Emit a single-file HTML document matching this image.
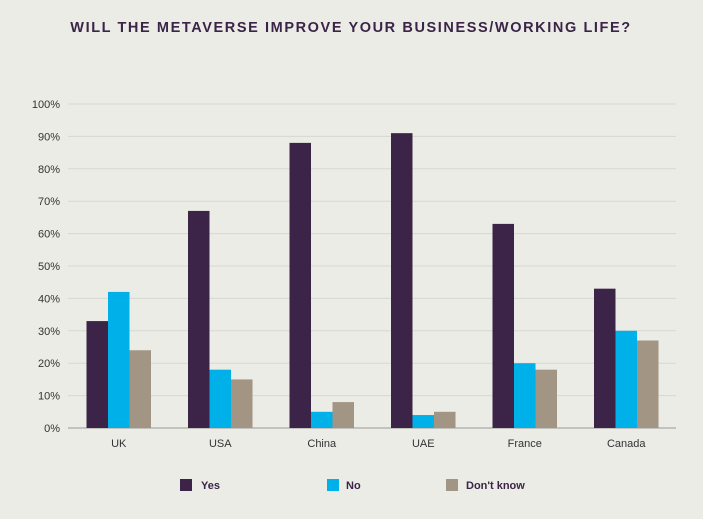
<!DOCTYPE html>
<html><head><meta charset="utf-8"><style>
html,body{margin:0;padding:0;background:#eaece5;}
body{width:703px;height:514px;overflow:hidden;font-family:"Liberation Sans",sans-serif;}
</style></head><body>
<svg id="chart" width="703" height="514" xmlns="http://www.w3.org/2000/svg">
<rect width="703" height="514" fill="#eaece5"/>
<text x="351" y="32" text-anchor="middle" font-size="14.5" font-weight="bold" letter-spacing="1.6" fill="#3b2447">WILL THE METAVERSE IMPROVE YOUR BUSINESS/WORKING LIFE?</text>
<g id="grid"></g><g id="bars"></g><g id="labels"></g>
<g>
<rect x="180" y="479" width="12" height="12" fill="#3b2447"/>
<text x="201" y="489" font-size="11" font-weight="bold" fill="#3b2447">Yes</text>
<rect x="327" y="479" width="12" height="12" fill="#00b0e8"/>
<text x="346" y="489" font-size="11" font-weight="bold" fill="#3b2447">No</text>
<rect x="446" y="479" width="12" height="12" fill="#a39584"/>
<text x="466" y="489" font-size="11" font-weight="bold" fill="#3b2447">Don't know</text>
</g>
</svg>
<script>
const categories=["UK","USA","China","UAE","France","Canada"];
const yesValues=[33,67,88,91,63,43];
const noValues=[42,18,5,4,20,30];
const dkValues=[24,15,8,5,18,27];
const ticks=[0,10,20,30,40,50,60,70,80,90,100];
const NS="http://www.w3.org/2000/svg";
const x0=68,groupW=101.5,barW=21.5,y0=428,y100=104;
function y(v){return y0-(y0-y100)*v/100;}
function gx(i){return x0+groupW*i;}
function mk(t,a,p){const e=document.createElementNS(NS,t);for(const k in a)e.setAttribute(k,a[k]);p.appendChild(e);return e;}
const grid=document.getElementById('grid'),bars=document.getElementById('bars'),labels=document.getElementById('labels');
ticks.forEach(t=>{
 const l=mk('line',{x1:68,x2:676,y1:y(t),y2:y(t),stroke:t===0?'#999':'#d6d8d1','stroke-width':1},grid);
 
 
 const tx=mk('text',{x:60,y:y(t)+4,'text-anchor':'end','font-size':11,fill:'#333'},labels);
 tx.textContent=t+'%';
 
 
});
const series=[[yesValues,'#3b2447','yes'],[noValues,'#00b0e8','no'],[dkValues,'#a39584','dontknow']];
categories.forEach((c,i)=>{
 const cx=gx(i)+groupW/2;
 series.forEach((s,j)=>{
  const v=s[0][i];
  const r=mk('rect',{x:cx-1.5*barW+j*barW,y:y(v),width:barW,height:y0-y(v),fill:s[1]},bars);
  
  
 });
 const t=mk('text',{x:cx,y:447,'text-anchor':'middle','font-size':11,fill:'#333'},labels);
 t.textContent=c;
 
 
});
</script>
</body></html>
